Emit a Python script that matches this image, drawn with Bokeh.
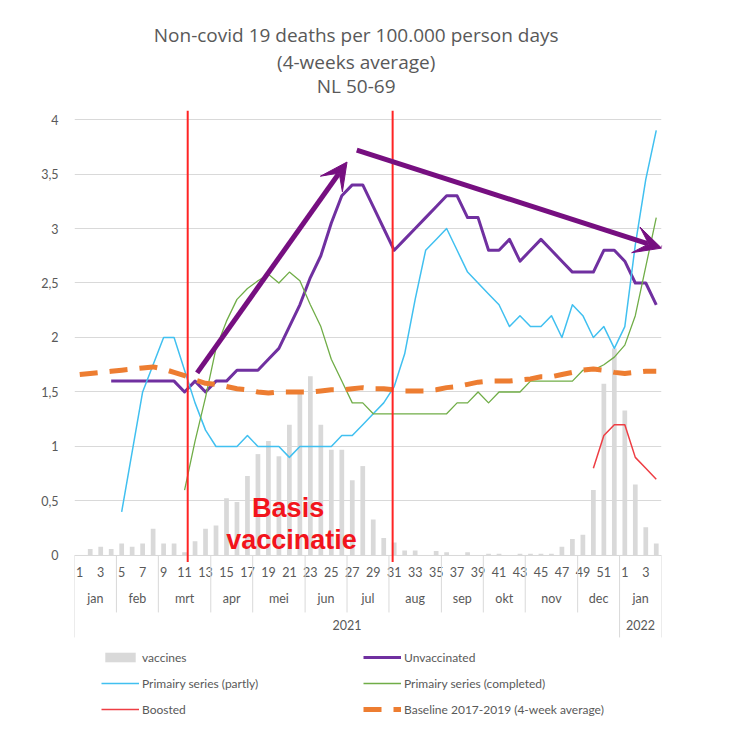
from bokeh.plotting import figure
from bokeh.models import (Range1d, FixedTicker, Legend, LegendItem,
                          Arrow, VeeHead, Label, ColumnDataSource)
from bokeh.core.properties import value
from bokeh.embed import file_html
from bokeh.resources import INLINE

nan = float("nan")

# ---------------- data ----------------
week_labels = [str(w) for w in range(1, 53)] + ["1", "2", "3", "4"]
months = ["jan", "feb", "mrt", "apr", "mei", "jun", "jul", "aug", "sep", "okt", "nov", "dec", "jan"]
month_weeks = [4, 4, 5, 4, 5, 4, 4, 5, 4, 4, 5, 4, 4]
years = ["2021", "2022"]
year_weeks = [52, 4]

vaccines = [0, 0.06, 0.08, 0.06, 0.11, 0.08, 0.11, 0.245, 0.11, 0.11,
            0.03, 0.13, 0.245, 0.275, 0.525, 0.49, 0.73, 0.93, 1.05, 0.91,
            1.2, 1.49, 1.645, 1.2, 0.97, 0.97, 0.69, 0.82, 0.33, 0.16,
            0.12, 0.045, 0.045, 0, 0.04, 0.03, 0, 0.03, 0, 0.016,
            0.016, 0, 0.016, 0.016, 0.016, 0.016, 0.08, 0.15, 0.19, 0.6,
            1.575, 1.9, 1.33, 0.65, 0.26, 0.11]

unvaccinated = [nan, nan, nan, 1.6, 1.6, 1.6, 1.6, 1.6, 1.6, 1.6,
                1.5, 1.6, 1.5, 1.6, 1.6, 1.7, 1.7, 1.7, 1.8, 1.9,
                2.1, 2.3, 2.55, 2.75, 3.05, 3.3, 3.4, 3.4, 3.2, 3.0,
                2.8, 2.9, 3.0, 3.1, 3.2, 3.3, 3.3, 3.1, 3.1, 2.8,
                2.8, 2.9, 2.7, 2.8, 2.9, 2.8, 2.7, 2.6, 2.6, 2.6,
                2.8, 2.8, 2.7, 2.5, 2.5, 2.3]

partly = [nan, nan, nan, nan, 0.4, 0.95, 1.5, 1.75, 2.0, 2.0,
          1.7, 1.4, 1.15, 1.0, 1.0, 1.0, 1.1, 1.0, 1.0, 1.0,
          0.9, 1.0, 1.0, 1.0, 1.0, 1.1, 1.1, 1.2, 1.3, 1.4,
          1.55, 1.85, 2.35, 2.8, 2.9, 3.0, 2.8, 2.6, 2.5, 2.4,
          2.3, 2.1, 2.2, 2.1, 2.1, 2.2, 2.0, 2.3, 2.2, 2.0,
          2.1, 1.9, 2.1, 2.85, 3.45, 3.9]

completed = [nan, nan, nan, nan, nan, nan, nan, nan, nan, nan,
             0.6, 1.05, 1.45, 1.9, 2.15, 2.35, 2.45, 2.52, 2.58, 2.5,
             2.6, 2.52, 2.3, 2.1, 1.8, 1.6, 1.4, 1.4, 1.3, 1.3,
             1.3, 1.3, 1.3, 1.3, 1.3, 1.3, 1.4, 1.4, 1.5, 1.4,
             1.5, 1.5, 1.5, 1.6, 1.6, 1.6, 1.6, 1.6, 1.7, 1.7,
             1.75, 1.82, 1.93, 2.2, 2.65, 3.1]

boosted = [nan] * 49 + [0.8, 1.1, 1.2, 1.2, 0.9, 0.8, 0.7]

baseline = [1.66, 1.67, 1.68, 1.69, 1.70, 1.71, 1.72, 1.73, 1.71, 1.68,
            1.65, 1.61, 1.58, 1.57, 1.55, 1.53, 1.52, 1.50, 1.49, 1.50,
            1.50, 1.50, 1.50, 1.51, 1.52, 1.52, 1.53, 1.54, 1.53, 1.53,
            1.52, 1.51, 1.51, 1.51, 1.52, 1.54, 1.55, 1.57, 1.59, 1.60,
            1.60, 1.60, 1.61, 1.62, 1.64, 1.64, 1.66, 1.68, 1.70, 1.71,
            1.70, 1.68, 1.67, 1.68, 1.69, 1.69]

y_ticks = [0, 0.5, 1, 1.5, 2, 2.5, 3, 3.5, 4]
y_tick_labels = ["0", "0,5", "1", "1,5", "2", "2,5", "3", "3,5", "4"]

title_lines = ["Non-covid 19 deaths per 100.000 person days", "(4-weeks average)", "NL 50-69"]

# annotations (hand-drawn shapes in the original)
vline_weeks = [10.8, 30.35]
arrow_x_start = [11.7, 26.93]
arrow_y_start = [1.675, 3.72]
arrow_x_end = [26.0, 56.0]
arrow_y_end = [3.61, 2.82]

# ---------------- layout constants (y in value units) ----------------
Y_TOP = 5.092
Y_BOTTOM = -1.606
TITLE_X = 26.87
TITLE_Y = [4.771, 4.532, 4.303]
ROW_WEEK, ROW_MONTH, ROW_YEAR = -0.156, -0.394, -0.642
MONTH_SEP_END, YEAR_SEP_END = -0.523, -0.752
VLINE_BOTTOM, VLINE_TOP = -0.06, 4.08

# ---------------- derived positions ----------------
n = len(week_labels)
x = [i + 0.5 for i in range(n)]
bounds = [0]
for w in month_weeks:
    bounds.append(bounds[-1] + w)
month_centers = [(bounds[i] + bounds[i + 1]) / 2 for i in range(len(months))]
ybounds = [0]
for w in year_weeks:
    ybounds.append(ybounds[-1] + w)
year_centers = [(ybounds[i] + ybounds[i + 1]) / 2 for i in range(len(years))]
month_seps = [b for b in bounds if b not in ybounds]

src = ColumnDataSource(dict(x=x, vaccines=vaccines, unvaccinated=unvaccinated,
                            partly=partly, completed=completed, boosted=boosted,
                            baseline=baseline))

FONT = "Lato"
TXT = "#595959"
GRID = "#D9D9D9"

p = figure(width=734, height=734, x_range=Range1d(0, n), y_range=Range1d(Y_BOTTOM, Y_TOP),
           output_backend="svg", toolbar_location=None, title=None, x_axis_location=None,
           min_border_left=74, min_border_right=73, min_border_top=0,
           min_border_bottom=4)
p.outline_line_color = None
p.background_fill_color = "white"
p.border_fill_color = "white"

# chart title (three centred lines)
for txt, ty in zip(title_lines, TITLE_Y):
    p.add_layout(Label(x=TITLE_X, y=ty, text=txt, text_align="center", text_baseline="middle",
                       text_font="Open Sans", text_font_size="19px", text_color=TXT))

# y axis & grid
yt = FixedTicker(ticks=y_ticks)
p.yaxis.ticker = yt
p.ygrid.ticker = yt
p.yaxis.major_label_overrides = dict(zip(y_ticks, y_tick_labels))
p.yaxis.axis_line_color = None
p.yaxis.major_tick_line_color = None
p.yaxis.minor_tick_line_color = None
p.yaxis.major_label_text_font = FONT
p.yaxis.major_label_text_font_size = "12.5px"
p.yaxis.major_label_text_color = TXT
p.yaxis.major_label_standoff = 10
p.ygrid.grid_line_color = GRID
p.xgrid.grid_line_color = None

# multi-level category axis (weeks / months / years)
p.text(x=x[0::2], y=[ROW_WEEK] * len(x[0::2]), text=week_labels[0::2],
       text_align="center", text_baseline="middle", text_font=value(FONT),
       text_font_size="12.5px", text_color=TXT)
p.text(x=month_centers, y=[ROW_MONTH] * len(months), text=months,
       text_align="center", text_baseline="middle", text_font=value(FONT),
       text_font_size="12.5px", text_color=TXT)
p.text(x=year_centers, y=[ROW_YEAR] * len(years), text=years,
       text_align="center", text_baseline="middle", text_font=value(FONT),
       text_font_size="12.5px", text_color=TXT)
p.segment(x0=month_seps, y0=[0] * len(month_seps), x1=month_seps,
          y1=[MONTH_SEP_END] * len(month_seps), line_color=GRID, line_width=1)
p.segment(x0=ybounds, y0=[0] * len(ybounds), x1=ybounds,
          y1=[YEAR_SEP_END] * len(ybounds), line_color=GRID, line_width=1)

# series
r_vac = p.vbar(x="x", top="vaccines", width=0.45, source=src, fill_color=GRID, line_color=None)
p.segment(x0=[0], y0=[0], x1=[n], y1=[0], line_color=GRID, line_width=1)
r_unv = p.line("x", "unvaccinated", source=src, line_color="#7030A0", line_width=3, line_join="round")
r_par = p.line("x", "partly", source=src, line_color="#41C0F0", line_width=1.5, line_join="round")
r_com = p.line("x", "completed", source=src, line_color="#70AD47", line_width=1.3, line_join="round")
r_boo = p.line("x", "boosted", source=src, line_color="#EE3E44", line_width=1.5, line_join="round")
r_bas = p.line("x", "baseline", source=src, line_color="#ED7D31", line_width=5, line_dash="18 12")

# red vertical marker lines
p.segment(x0=vline_weeks, y0=[VLINE_BOTTOM] * len(vline_weeks), x1=vline_weeks,
          y1=[VLINE_TOP] * len(vline_weeks), line_color="#FF2424", line_width=2)

PURPLE = "#760F80"
for xs, ys, xe, ye in zip(arrow_x_start, arrow_y_start, arrow_x_end, arrow_y_end):
    p.add_layout(Arrow(x_start=xs, y_start=ys, x_end=xe, y_end=ye, line_color=PURPLE, line_width=5,
                       end=VeeHead(size=27, fill_color=PURPLE, line_color=PURPLE, line_width=1)))

p.add_layout(Label(x=20.38, y=0.435, text="Basis", text_align="center", text_baseline="middle",
                   text_font="Liberation Sans", text_font_size="27px", text_font_style="bold",
                   text_color="#F2141C"))
p.add_layout(Label(x=20.7, y=0.14, text="vaccinatie", text_align="center", text_baseline="middle",
                   text_font="Liberation Sans", text_font_size="27px", text_font_style="bold",
                   text_color="#F2141C"))

legend = Legend(items=[LegendItem(label="vaccines", renderers=[r_vac]),
                       LegendItem(label="Unvaccinated", renderers=[r_unv]),
                       LegendItem(label="Primairy series (partly)", renderers=[r_par]),
                       LegendItem(label="Primairy series (completed)", renderers=[r_com]),
                       LegendItem(label="Boosted", renderers=[r_boo]),
                       LegendItem(label="Baseline 2017-2019 (4-week average)", renderers=[r_bas])],
                orientation="horizontal", ncols=2, location=(27, 13),
                glyph_width=38, glyph_height=12, label_height=16, label_width=211,
                label_standoff=3, spacing=10, padding=0, margin=0,
                border_line_color=None, background_fill_alpha=0,
                label_text_font=FONT, label_text_font_size="12px", label_text_color=TXT)
p.add_layout(legend)

open("out.html", "w").write(file_html(p, INLINE))
